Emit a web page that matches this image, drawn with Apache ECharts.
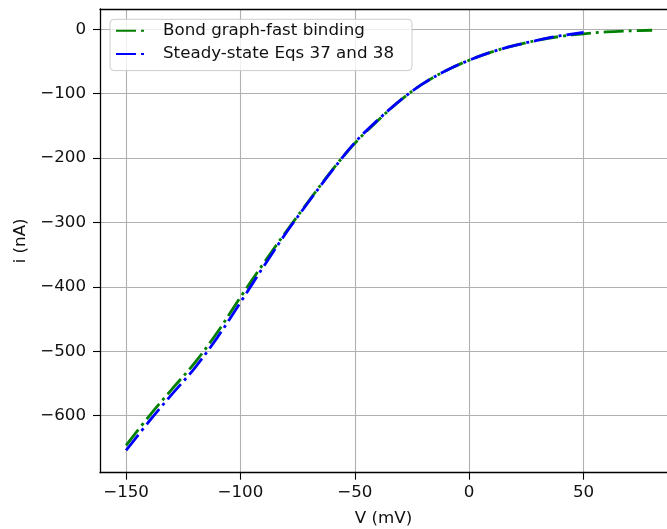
<!DOCTYPE html>
<html>
<head>
<meta charset="utf-8">
<script src="https://cdn.jsdelivr.net/npm/echarts@6/dist/echarts.min.js"></script>
<style>
html,body{margin:0;padding:0;background:#fff;}
#chart{width:667px;height:529px;}
</style>
</head>
<body>
<div id="chart"></div>
<script>
// Data
const seriesNames = ['Bond graph-fast binding', 'Steady-state Eqs 37 and 38'];
const greenV = [-150,-140,-130,-120,-110,-100,-90,-80,-70,-60,-50,-40,-30,-20,-10,0,10,20,30,40,50,60,70,80];
const greenI = [-646,-601,-559,-518,-470,-416,-364,-314,-266,-219,-177,-142,-110,-84,-64,-48,-35,-25,-17,-11,-7,-4,-2.5,-1.5];
const blueV = [-150,-140,-130,-120,-110,-100,-90,-80,-70,-60,-50,-40,-30,-20,-10,0,10,20,30,40,50];
const blueI = [-654,-609,-567,-526,-478,-424,-369,-316,-267,-220,-176,-141,-110,-84,-64,-48,-35,-25,-17,-10,-5];
const xTicks = [-150,-100,-50,0,50];
const yTicks = [0,-100,-200,-300,-400,-500,-600];
const xLabel = 'V (mV)';
const yLabel = 'i (nA)';

const FONT = 'DejaVu Sans';
const fmt = v => String(v).replace('-', '\u2212');
const pairs = (xs, ys) => xs.map((x, i) => [x, ys[i]]);
const X_MIN = -161.4, X_MAX = 86.5;

const chart = echarts.init(document.getElementById('chart'), null, {renderer: 'canvas'});
chart.setOption({
  animation: false,
  backgroundColor: '#fff',
  textStyle: {fontFamily: FONT},
  grid: {left: 100, top: 9, bottom: 56.3, right: 0, show: false, outerBoundsMode: 'none', containLabel: false},
  legend: {
    orient: 'vertical', left: 110, top: 19.3,
    padding: [3, 18, 8, 5], itemGap: 6.3,
    itemWidth: 29, itemHeight: 14,
    backgroundColor: 'rgba(255,255,255,0.8)', borderColor: '#cccccc', borderWidth: 1, borderRadius: 4,
    itemStyle: {color: 'rgba(0,0,0,0)', borderWidth: 0},
    textStyle: {fontFamily: FONT, fontSize: 16.7, color: '#111', lineHeight: 17, padding: [0, 0, 0, 13]},
    data: seriesNames
  },
  xAxis: [{
    type: 'value', min: X_MIN, max: X_MAX,
    name: xLabel, nameLocation: 'middle', nameGap: 37,
    nameTextStyle: {fontFamily: FONT, fontSize: 16.7, color: '#111'},
    axisLine: {show: true, onZero: false, lineStyle: {color: '#000', width: 1.3}},
    axisTick: {show: true, length: 7, inside: false, lineStyle: {color: '#000', width: 1.1}, customValues: xTicks},
    axisLabel: {show: true, margin: 11, fontFamily: FONT, fontSize: 16.7, color: '#111', formatter: fmt, customValues: xTicks},
    splitLine: {show: true, lineStyle: {color: '#b0b0b0', width: 1.1}}
  }, {
    type: 'value', position: 'top', min: X_MIN, max: X_MAX,
    axisLine: {show: true, onZero: false, lineStyle: {color: '#000', width: 1.3}},
    axisTick: {show: false}, axisLabel: {show: false}, splitLine: {show: false}
  }],
  yAxis: {
    type: 'value', min: -688.5, max: 31.5,
    name: yLabel, nameLocation: 'middle', nameGap: 70, nameRotate: 90,
    nameTextStyle: {fontFamily: FONT, fontSize: 16.7, color: '#111'},
    axisLine: {show: true, onZero: false, lineStyle: {color: '#000', width: 1.3}},
    axisTick: {show: true, length: 7, inside: false, lineStyle: {color: '#000', width: 1.1}, customValues: yTicks},
    axisLabel: {show: true, margin: 14, fontFamily: FONT, fontSize: 16.7, color: '#111', formatter: fmt, customValues: yTicks},
    splitLine: {show: true, lineStyle: {color: '#b0b0b0', width: 1.1}}
  },
  series: [
    {
      name: seriesNames[0], type: 'line', data: pairs(greenV, greenI),
      symbol: 'none', showSymbol: false, smooth: 0.35,
      lineStyle: {color: '#008000', width: 2.8, type: [20, 5, 3, 5], cap: 'butt'},
      itemStyle: {color: '#008000'}
    },
    {
      name: seriesNames[1], type: 'line', data: pairs(blueV, blueI),
      symbol: 'none', showSymbol: false, smooth: 0.35,
      lineStyle: {color: '#0000ff', width: 2.8, type: [20, 5, 3, 5], cap: 'butt'},
      itemStyle: {color: '#0000ff'}
    }
  ]
});
</script>
</body>
</html>
